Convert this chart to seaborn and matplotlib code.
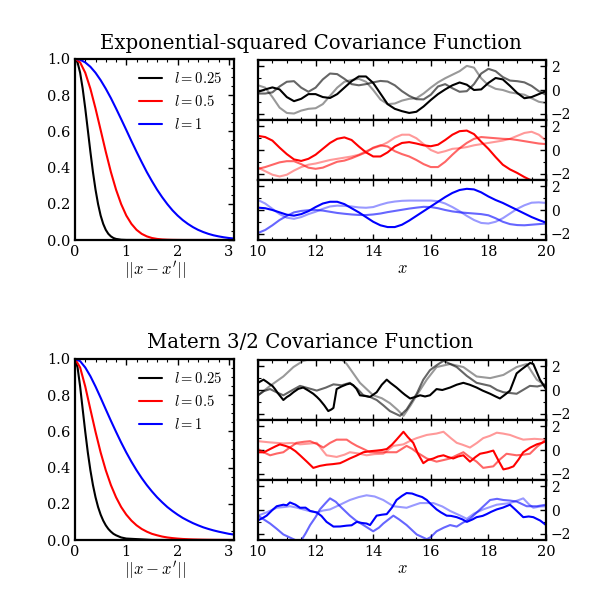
import numpy as np
import matplotlib
matplotlib.use("Agg")
import matplotlib.pyplot as plt
from matplotlib.ticker import MultipleLocator
import seaborn as sns

# ---------------- data ----------------
length_labels = ["$l=0.25$", "$l=0.5$", "$l=1$"]

# covariance curves
r_fine = [0, 0.05, 0.1, 0.15, 0.2, 0.25, 0.3, 0.35, 0.4, 0.45, 0.5, 0.55, 0.6,
          0.65, 0.7, 0.75, 0.8, 0.9, 1.0, 1.5, 2.0, 2.5, 3.1]
r_tenth = [0.0, 0.1, 0.2, 0.3, 0.4, 0.5, 0.6, 0.7, 0.8, 0.9, 1.0, 1.1, 1.2, 1.3,
           1.4, 1.5, 1.6, 1.7, 1.8, 1.9, 2.0, 2.1, 2.2, 2.3, 2.4, 2.5, 2.6, 2.7,
           2.8, 2.9, 3.0, 3.1]

sqexp_k_025 = [1, 0.980, 0.923, 0.835, 0.726, 0.607, 0.487, 0.375, 0.278, 0.198,
               0.135, 0.089, 0.056, 0.034, 0.020, 0.011, 0.006, 0.0015, 0.0003,
               0, 0, 0, 0]
sqexp_k_05 = [1, 0.980, 0.923, 0.835, 0.726, 0.607, 0.487, 0.375, 0.278, 0.198,
              0.135, 0.089, 0.056, 0.034, 0.020, 0.011, 0.006, 0.003, 0.0015,
              0.0007, 0.0003, 0, 0, 0, 0, 0, 0, 0, 0, 0, 0, 0]
sqexp_k_1 = [1, 0.995, 0.980, 0.956, 0.923, 0.882, 0.835, 0.783, 0.726, 0.667,
             0.607, 0.546, 0.487, 0.430, 0.375, 0.325, 0.278, 0.236, 0.198, 0.164,
             0.135, 0.110, 0.089, 0.071, 0.056, 0.044, 0.034, 0.026, 0.020, 0.015,
             0.011, 0.008]

matern_k_025 = [1, 0.952, 0.847, 0.721, 0.597, 0.483, 0.385, 0.303, 0.236, 0.182,
                0.140, 0.107, 0.081, 0.061, 0.046, 0.034, 0.026, 0.014, 0.008,
                0.0004, 0, 0, 0]
matern_k_05 = [1, 0.952, 0.847, 0.721, 0.597, 0.483, 0.385, 0.303, 0.236, 0.182,
               0.140, 0.107, 0.081, 0.061, 0.046, 0.034, 0.026, 0.019, 0.014,
               0.0105, 0.0078, 0.0057, 0.0042, 0.0031, 0.0023, 0.0017, 0.0012,
               0.0009, 0.0007, 0.0005, 0.0004, 0.0003]
matern_k_1 = [1, 0.987, 0.952, 0.904, 0.847, 0.785, 0.721, 0.658, 0.597, 0.538,
              0.483, 0.432, 0.385, 0.342, 0.303, 0.268, 0.236, 0.208, 0.182, 0.160,
              0.140, 0.122, 0.107, 0.093, 0.081, 0.070, 0.061, 0.053, 0.046, 0.040,
              0.034, 0.030]

# exponential-squared sample draws (x = 10 .. 20 step 0.25)
x_smooth = np.linspace(10, 20, 41)
sq_k_main = [-0.16, 0.05, 0.22, 0.05, -0.6, -0.95, -0.75, -0.35, -0.35, -0.6, -0.68,
             -0.35, 0.2, 0.75, 1.15, 1.15, 0.6, -0.3, -1.2, -1.6, -1.8, -1.95, -1.85,
             -1.4, -0.85, -0.35, 0.05, 0.4, 0.64, 0.45, 0.0, 0.05, 0.6, 1.02, 0.9,
             0.35, -0.25, -0.7, -0.6, -0.35, -0.1]
sq_k_mid = [-0.3, -0.3, -0.2, 0.3, 0.7, 0.75, 0.2, -0.15, 0.2, 0.9, 1.4, 1.35, 0.95,
            0.5, 0.4, 0.5, 0.65, 0.77, 0.72, 0.4, -0.1, -0.5, -0.78, -0.8, -0.4, 0.3,
            0.5, 0.15, -0.15, -0.1, 0.5, 1.4, 1.8, 1.6, 1.1, 0.8, 0.75, 0.65, 0.35,
            -0.1, -0.4]
sq_k_light = [0.4, 0.2, -0.6, -1.5, -1.95, -2.0, -1.75, -1.6, -1.55, -1.2, -0.5, 0.2,
              0.7, 0.85, 0.95, 0.7, 0.0, -0.8, -1.2, -1.15, -0.9, -0.75, -0.7, -0.3,
              0.2, 0.65, 1.0, 1.3, 1.6, 2.05, 1.9, 1.0, 0.4, 0.1, 0.0, -0.2, -0.3,
              -0.4, -0.7, -1.0, -1.1]
sq_r_main = [1.2, 1.1, 0.8, 0.2, -0.35, -0.8, -0.93, -0.75, -0.4, 0.1, 0.6, 0.95, 1.07,
             0.85, 0.3, -0.2, -0.55, -0.55, -0.2, 0.3, 0.6, 0.67, 0.55, 0.4, 0.32,
             0.45, 0.85, 1.3, 1.6, 1.65, 1.35, 0.7, 0.1, -0.6, -1.25, -1.65, -1.95,
             -2.3, -2.6, -2.8, -3.0]
sq_r_light = [-1.5, -1.8, -2.1, -2.25, -2.1, -1.75, -1.45, -1.25, -1.15, -1.0, -0.85,
              -0.75, -0.65, -0.55, -0.4, -0.1, 0.15, 0.35, 0.65, 1.05, 1.3, 1.3, 1.0,
              0.5, 0.0, -0.25, -0.1, 0.1, 0.15, 0.25, 0.4, 0.5, 0.6, 0.7, 0.8, 0.95,
              1.2, 1.45, 1.55, 1.3, 0.8]
sq_r_mid = [-1.6, -1.45, -1.25, -1.05, -0.95, -0.95, -1.2, -1.5, -1.6, -1.5, -1.25,
            -1.0, -0.9, -0.7, -0.45, -0.2, 0.2, 0.4, 0.3, -0.1, -0.35, -0.55, -0.85,
            -1.2, -1.45, -1.45, -1.0, -0.4, 0.15, 0.6, 0.95, 1.1, 1.05, 1.0, 0.95,
            0.93, 0.85, 0.75, 0.65, 0.55, 0.5]
sq_b_main = [0.2, 0.15, 0.0, -0.2, -0.4, -0.48, -0.35, -0.1, 0.25, 0.55, 0.7, 0.7, 0.5,
             0.15, -0.2, -0.6, -1.0, -1.3, -1.45, -1.45, -1.25, -0.9, -0.5, -0.1, 0.3,
             0.7, 1.1, 1.45, 1.7, 1.8, 1.75, 1.5, 1.15, 0.85, 0.6, 0.3, 0.0, -0.3,
             -0.6, -0.85, -1.07]
sq_b_light = [0.85, 0.55, 0.1, -0.35, -0.65, -0.75, -0.6, -0.35, -0.15, 0.1, 0.3, 0.37,
              0.35, 0.3, 0.22, 0.19, 0.25, 0.45, 0.62, 0.72, 0.78, 0.8, 0.8, 0.8, 0.8,
              0.75, 0.55, 0.25, -0.1, -0.5, -0.85, -1.1, -1.15, -1.0, -0.7, -0.3, 0.1,
              0.4, 0.62, 0.65, 0.6]
sq_b_mid = [-1.95, -1.7, -1.3, -0.85, -0.5, -0.2, -0.08, -0.02, 0.0, -0.05, -0.15,
            -0.25, -0.32, -0.38, -0.42, -0.43, -0.38, -0.3, -0.18, -0.08, 0.02, 0.12,
            0.2, 0.27, 0.25, 0.15, 0.0, -0.12, -0.2, -0.25, -0.3, -0.35, -0.45, -0.7,
            -1.0, -1.2, -1.28, -1.3, -1.25, -1.2, -1.15]

# Matern 3/2 sample draws (irregular x)
mt_k_main_x = [10.0, 10.1, 10.19, 10.3, 10.42, 10.5, 10.59, 10.7, 10.88, 11.0, 11.1,
               11.23, 11.4, 11.57, 11.75, 11.92, 12.05, 12.15, 12.3, 12.44, 12.55,
               12.62, 12.73, 12.9, 13.08, 13.2, 13.31, 13.42, 13.54, 13.7, 13.89,
               14.0, 14.12, 14.3, 14.47, 14.6, 14.81, 15.0, 15.1, 15.28, 15.45, 15.63,
               15.8, 15.97, 16.2, 16.4, 16.67, 16.9, 17.13, 17.35, 17.59, 17.8, 18.06,
               18.25, 18.4, 18.6, 18.75, 18.98, 19.15, 19.33, 19.45, 19.56, 19.79, 20.0]
mt_k_main_y = [0.61, 0.75, 0.88, 0.7, 0.48, 0.35, 0.08, -0.3, -0.85, -0.6, -0.45,
               -0.19, 0.1, 0.21, -0.05, -0.32, -0.6, -0.85, -1.3, -1.79, -1.65,
               -1.52, 0.08, 0.3, 0.48, 0.55, 0.4, 0.1, -0.45, -0.5, -0.59, -0.4,
               -0.19, 0.45, 0.88, 0.6, 0.21, -0.2, -0.4, -0.72, -0.6, -0.45, -0.55,
               -0.45, 0.08, 0.0, 0.21, 0.45, 0.61, 0.45, 0.21, -0.05, -0.32, -0.55,
               -0.72, -0.35, -0.05, 1.41, 1.75, 2.08, 2.3, 2.21, 0.88, 0.08]
mt_k_light_x = [10.0, 10.42, 10.88, 11.23, 11.57, 12.04, 12.38, 12.73, 13.08, 13.54,
                14.0, 14.3, 14.58, 14.85, 15.05, 15.3, 15.51, 15.86, 16.2, 16.67,
                17.13, 17.59, 18.06, 18.52, 18.98, 19.33, 19.68, 20.0]
mt_k_light_y = [-0.45, 0.35, 1.15, 1.95, 2.48, 2.75, 3.3, 3.0, 2.21, 0.61, -0.45,
                -0.7, -1.12, -1.7, -2.2, -1.3, -0.45, 0.88, 1.95, 2.21, 1.95, 1.15,
                1.01, 1.28, 1.95, 2.21, 0.88, 0.35]
mt_k_mid_x = [10.0, 10.2, 10.42, 10.65, 10.88, 11.2, 11.46, 11.75, 12.04, 12.35,
              12.62, 12.9, 13.19, 13.45, 13.66, 13.9, 14.12, 14.35, 14.58, 14.93,
              15.16, 15.51, 15.74, 15.97, 16.2, 16.44, 16.9, 17.25, 17.59, 18.06,
              18.3, 18.52, 18.98, 19.2, 19.44, 19.7, 20.0]
mt_k_mid_y = [-0.45, -0.1, 0.08, -0.2, -0.45, 0.0, 0.35, 0.15, -0.05, 0.2, 0.48, 0.4,
              0.61, 0.1, -0.45, -0.6, -0.85, -1.3, -1.79, -2.2, -1.65, -0.32, 0.88,
              1.68, 2.1, 2.48, 1.95, 1.2, 0.61, 0.35, 0.0, -0.19, -0.32, 0.0, 0.35,
              0.3, 0.48]

mt_r_main_x = [10.0, 10.2, 10.42, 10.6, 10.76, 10.95, 11.11, 11.3, 11.46, 11.7, 11.92,
               12.15, 12.38, 12.6, 12.85, 13.0, 13.19, 13.4, 13.66, 13.9, 14.12, 14.3,
               14.47, 14.65, 14.81, 15.05, 15.2, 15.39, 15.55, 15.74, 15.9, 16.09,
               16.25, 16.44, 16.6, 16.78, 16.95, 17.13, 17.36, 17.55, 17.71, 17.95,
               18.17, 18.35, 18.52, 18.7, 18.87, 19.05, 19.21, 19.45, 19.68, 19.85, 20.0]
mt_r_main_y = [-0.19, -0.2, 0.08, 0.3, 0.48, 0.35, 0.21, -0.1, -0.45, -1.0, -1.52,
               -1.35, -1.25, -1.2, -1.12, -0.95, -0.72, -0.5, -0.19, -0.1, -0.05, 0.0,
               0.08, 0.45, 0.88, 1.55, 1.1, 0.61, -0.3, -1.12, -0.85, -0.72, -0.55,
               -0.45, -0.6, -0.72, -0.55, -0.45, -0.99, -0.6, -0.32, -0.2, -0.05,
               -0.9, -1.65, -1.55, -1.39, -0.8, -0.19, 0.2, 0.48, 0.6, 0.75]
mt_r_light_x = [10.0, 10.4, 10.88, 11.2, 11.46, 11.8, 12.04, 12.2, 12.38, 12.73,
                13.0, 13.19, 13.5, 13.77, 14.05, 14.35, 14.7, 15.05, 15.3, 15.51,
                15.86, 16.2, 16.44, 16.7, 16.9, 17.1, 17.36, 17.6, 17.82, 18.05,
                18.29, 18.5, 18.75, 19.0, 19.21, 19.6, 20.0]
mt_r_light_y = [0.75, 0.65, 0.56, 0.6, 0.48, 0.55, 0.61, 0.1, -0.45, -0.59, -0.4,
                -0.19, -0.3, -0.45, -0.35, -0.32, 0.35, 0.48, 0.8, 1.01, 1.28, 1.4,
                1.55, 1.0, 0.61, 0.45, 0.21, 0.6, 1.01, 1.2, 1.47, 1.4, 1.28, 1.05,
                0.88, 0.95, 0.88]
mt_r_mid_x = [10.0, 10.2, 10.42, 10.65, 10.88, 11.1, 11.34, 11.6, 11.81, 12.05,
              12.27, 12.5, 12.73, 13.08, 13.25, 13.43, 13.65, 13.89, 14.2, 14.47,
              14.81, 15.0, 15.16, 15.35, 15.51, 15.86, 16.2, 16.45, 16.67, 16.9,
              17.13, 17.35, 17.59, 17.82, 18.0, 18.17, 18.4, 18.63, 18.98, 19.2,
              19.44, 19.7, 20.0]
mt_r_mid_y = [0.08, -0.2, -0.45, -0.3, -0.19, 0.2, 0.61, 0.7, 0.75, 0.5, 0.21, 0.6,
              0.88, 0.88, 0.6, 0.35, 0.1, -0.19, -0.2, -0.19, -0.19, 0.1, 0.35, 0.1,
              -0.19, -0.72, -0.99, -0.85, -0.72, -0.45, -0.19, -0.6, -0.99, -1.52,
              -1.45, -1.39, -0.8, -0.32, -0.45, -0.4, -0.32, 0.3, 0.88]

mt_b_main_x = [10.0, 10.15, 10.3, 10.5, 10.65, 10.88, 11.0, 11.11, 11.3, 11.46, 11.65,
               11.81, 12.04, 12.2, 12.38, 12.62, 12.85, 13.08, 13.25, 13.43, 13.6,
               13.77, 13.89, 14.12, 14.3, 14.47, 14.65, 14.81, 15.0, 15.16, 15.35,
               15.51, 15.7, 15.86, 16.0, 16.2, 16.35, 16.55, 16.7, 16.9, 17.1, 17.25,
               17.45, 17.59, 17.8, 17.94, 18.1, 18.29, 18.5, 18.75, 18.95, 19.21,
               19.4, 19.56, 19.8, 20.0]
mt_b_main_y = [-0.88, -0.7, -0.48, 0.0, 0.32, 0.45, 0.4, 0.64, 0.45, 0.19, 0.2,
               -0.08, -0.21, -0.5, -1.01, -1.41, -1.4, -1.33, -1.3, -1.01, -1.1,
               -1.15, -1.28, -0.48, -0.4, -0.35, 0.2, 0.85, 1.2, 1.44, 1.4, 1.25, 1.1,
               0.85, 0.5, 0.05, -0.2, -0.48, -0.5, -0.61, -0.8, -1.01, -0.8, -0.61,
               -0.5, -0.35, -0.15, 0.05, 0.2, 0.45, 0.0, -0.61, -0.55, -0.61, -0.9,
               -1.28]
mt_b_light_x = [10.0, 10.3, 10.65, 10.9, 11.11, 11.35, 11.57, 11.8, 12.04, 12.25,
                12.5, 12.85, 13.19, 13.5, 13.77, 14.05, 14.35, 14.7, 14.95, 15.16,
                15.4, 15.63, 16.09, 16.4, 16.67, 17.0, 17.25, 17.5, 17.82, 18.29,
                18.75, 19.0, 19.21, 19.4, 19.56, 19.8, 20.0]
mt_b_light_y = [-0.48, -0.2, 0.19, 0.25, 0.32, 0.2, 0.05, -0.1, -0.21, -0.05, 0.05,
                0.45, 0.85, 1.1, 1.25, 1.15, 0.85, 0.32, 0.25, 0.19, 0.4, 0.59, 0.59,
                0.3, -0.08, -0.45, -0.75, -0.3, 0.05, 0.45, 0.59, 0.8, 0.99, 0.5, 0.19,
                0.3, 0.32]
mt_b_mid_x = [10.0, 10.2, 10.42, 10.65, 10.88, 11.23, 11.46, 11.65, 11.81, 12.0,
              12.15, 12.35, 12.5, 12.7, 12.85, 13.19, 13.4, 13.66, 14.0, 14.2, 14.35,
              14.7, 14.9, 15.16, 15.51, 15.86, 16.0, 16.2, 16.45, 16.67, 16.9, 17.1,
              17.36, 17.71, 18.06, 18.3, 18.52, 18.75, 18.98, 19.33, 19.68, 20.0]
mt_b_mid_y = [-0.48, -0.8, -1.15, -1.6, -2.08, -2.48, -2.75, -2.0, -1.28, -0.6, 0.05,
              0.6, 0.99, 0.7, 0.32, -0.48, -0.9, -1.28, -1.81, -1.5, -1.15, -0.48,
              -0.8, -1.28, -2.08, -2.48, -2.3, -1.81, -1.5, -1.28, -1.41, -1.1, -0.75,
              0.05, 0.85, 0.95, 0.85, 0.8, 0.72, 0.32, 0.32, 0.45]

# ---------------- style ----------------
sns.set_style("white")
plt.rcParams.update({
    "font.family": ["DejaVu Serif"],
    "mathtext.fontset": "cm",
    "axes.linewidth": 1.6,
    "axes.edgecolor": "black",
    "xtick.direction": "in",
    "ytick.direction": "in",
    "xtick.top": True,
    "ytick.right": True,
    "xtick.major.size": 4,
    "ytick.major.size": 4,
    "xtick.minor.size": 2,
    "ytick.minor.size": 2,
    "xtick.major.width": 1,
    "ytick.major.width": 1,
    "xtick.minor.width": 0.8,
    "ytick.minor.width": 0.8,
    "xtick.color": "black",
    "ytick.color": "black",
    "xtick.labelsize": 10.5,
    "ytick.labelsize": 10.5,
    "axes.labelsize": 12,
    "text.color": "black",
    "axes.labelcolor": "black",
})

fig = plt.figure(figsize=(6, 6), dpi=100)

main_colors = ["black", "red", "blue"]
alphas = [1.0, 0.6, 0.4]

rows = [
    dict(title="Exponential-squared Covariance Function", bottom=0.6, ty=0.928,
         cov=[(r_fine, sqexp_k_025), (r_tenth, sqexp_k_05), (r_tenth, sqexp_k_1)],
         samples=[
             [(x_smooth, sq_k_main), (x_smooth, sq_k_mid), (x_smooth, sq_k_light)],
             [(x_smooth, sq_r_main), (x_smooth, sq_r_mid), (x_smooth, sq_r_light)],
             [(x_smooth, sq_b_main), (x_smooth, sq_b_mid), (x_smooth, sq_b_light)],
         ]),
    dict(title="Matern 3/2 Covariance Function", bottom=0.1, ty=0.43,
         cov=[(r_fine, matern_k_025), (r_tenth, matern_k_05), (r_tenth, matern_k_1)],
         samples=[
             [(mt_k_main_x, mt_k_main_y), (mt_k_mid_x, mt_k_mid_y), (mt_k_light_x, mt_k_light_y)],
             [(mt_r_main_x, mt_r_main_y), (mt_r_mid_x, mt_r_mid_y), (mt_r_light_x, mt_r_light_y)],
             [(mt_b_main_x, mt_b_main_y), (mt_b_mid_x, mt_b_mid_y), (mt_b_light_x, mt_b_light_y)],
         ]),
]

for row in rows:
    b = row["bottom"]
    axl = fig.add_axes([0.125, b, 0.265, 0.302])
    for (rx, ky), col, lab in zip(row["cov"], main_colors, length_labels):
        sns.lineplot(x=rx, y=ky, ax=axl, color=col, lw=1.5, label=lab)
    axl.set_xlim(0, 3.1)
    axl.set_ylim(0, 1)
    axl.xaxis.set_major_locator(MultipleLocator(1))
    axl.xaxis.set_minor_locator(MultipleLocator(0.2))
    axl.yaxis.set_major_locator(MultipleLocator(0.2))
    axl.yaxis.set_minor_locator(MultipleLocator(0.05))
    axl.set_xlabel(r"$||x-x'||$", labelpad=0.5)
    axl.set_ylabel("")
    axl.legend(loc="upper right", frameon=False, fontsize=10.5,
               handlelength=1.6, handletextpad=0.8, labelspacing=0.55,
               borderaxespad=0.45)
    for sp in axl.spines.values():
        sp.set_visible(True)

    h = 0.1
    for i, (draws, col) in enumerate(zip(row["samples"], main_colors)):
        ax = fig.add_axes([0.43, b + (2 - i) * h, 0.48, h])
        for (sx, sy), a in list(zip(draws, alphas))[::-1]:
            sns.lineplot(x=sx, y=sy, ax=ax, color=col, alpha=a, lw=1.5)
        ax.set_xlim(10, 20)
        ax.set_ylim(-2.55, 2.55)
        ax.xaxis.set_major_locator(MultipleLocator(2))
        ax.xaxis.set_minor_locator(MultipleLocator(0.5))
        ax.yaxis.set_major_locator(MultipleLocator(2))
        ax.yaxis.set_minor_locator(MultipleLocator(1))
        ax.tick_params(axis="y", which="both", left=True, right=True,
                       labelleft=False, labelright=True)
        ax.tick_params(axis="y", labelsize=10)
        ax.tick_params(axis="x", which="both", top=True, bottom=True)
        ax.set_ylabel("")
        for sp in ax.spines.values():
            sp.set_visible(True)
        if i < 2:
            ax.tick_params(axis="x", labelbottom=False)
            ax.set_xlabel("")
        else:
            ax.set_xlabel("$x$", labelpad=0.5)

    fig.text(0.5175, row["ty"], row["title"], ha="center", va="center", fontsize=14.2)

fig.savefig("out.png", dpi=100)
